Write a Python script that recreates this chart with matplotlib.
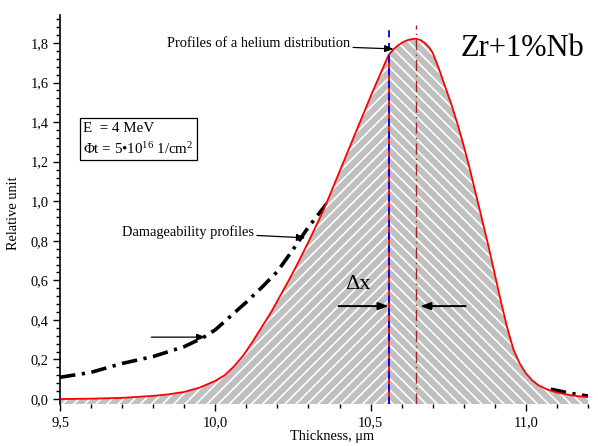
import matplotlib
matplotlib.use("Agg")
import matplotlib.pyplot as plt
import numpy as np
from matplotlib.ticker import MultipleLocator, FixedLocator

plt.rcParams['font.family'] = ['Liberation Serif', 'DejaVu Serif']
plt.rcParams['mathtext.fontset'] = 'custom'
plt.rcParams['mathtext.rm'] = 'Liberation Serif'
plt.rcParams['mathtext.it'] = 'Liberation Serif:italic'
plt.rcParams['hatch.linewidth'] = 1.2

# Helium distribution profile (red)
helium_x = [9.50, 9.60, 9.70, 9.80, 9.85, 9.90, 9.95, 10.00, 10.03, 10.06,
            10.09, 10.12, 10.15, 10.18, 10.21, 10.24, 10.27, 10.30, 10.35,
            10.40, 10.45, 10.50, 10.558, 10.575, 10.59, 10.605, 10.62, 10.635,
            10.645, 10.66, 10.675, 10.69, 10.70, 10.72, 10.74, 10.76, 10.78,
            10.80, 10.82, 10.84, 10.86, 10.88, 10.90, 10.92, 10.94, 10.96,
            10.98, 11.00, 11.02, 11.04, 11.07, 11.10, 11.15, 11.20]
helium_y = [0.000, 0.002, 0.006, 0.016, 0.024, 0.036, 0.058, 0.092, 0.12, 0.165,
            0.22, 0.29, 0.365, 0.44, 0.525, 0.61, 0.70, 0.795, 0.96,
            1.15, 1.34, 1.53, 1.74, 1.77, 1.79, 1.805, 1.815, 1.82,
            1.822, 1.815, 1.80, 1.775, 1.75, 1.67, 1.58, 1.49, 1.39,
            1.28, 1.16, 1.03, 0.90, 0.77, 0.63, 0.49, 0.36, 0.25,
            0.18, 0.13, 0.095, 0.07, 0.048, 0.033, 0.018, 0.009]

# Damageability profile (black dash-dot), visible parts
damage_x = [9.50, 9.60, 9.70, 9.80, 9.90, 9.96, 10.00, 10.05, 10.10, 10.15,
            10.20, 10.25, 10.30, 10.36, np.nan, 11.08, 11.14, 11.20]
damage_y = [0.11, 0.135, 0.18, 0.215, 0.265, 0.31, 0.35, 0.42, 0.49, 0.565,
            0.645, 0.755, 0.87, 0.99, np.nan, 0.05, 0.03, 0.015]

damage_peak_x = 10.558   # blue dashed line
helium_peak_x = 10.645   # brown dash-dot line
helium_at_damage_peak = 1.74

xtick_vals = [9.5, 10.0, 10.5, 11.0]
xtick_labels = ['9,5', '10,0', '10,5', '11,0']
ytick_vals = [0.0, 0.2, 0.4, 0.6, 0.8, 1.0, 1.2, 1.4, 1.6, 1.8]
ytick_labels = ['0,0', '0,2', '0,4', '0,6', '0,8', '1,0', '1,2', '1,4', '1,6', '1,8']

YMIN, YMAX = -0.025, 1.94

fig = plt.figure(figsize=(5.98, 4.46), dpi=100)
ax = fig.add_axes([60/598, 42/446, 528/598, (430.7-42)/446])

hx = np.array(helium_x)
hy = np.array(helium_y)
ax.fill_between(hx, YMIN, hy, where=hx <= damage_peak_x, facecolor='#c0c0c0',
                edgecolor='white', hatch='///', linewidth=0, zorder=2)
ax.fill_between(hx, YMIN, hy, where=hx >= damage_peak_x, facecolor='#c0c0c0',
                edgecolor='white', hatch='\\\\\\', linewidth=0, zorder=2)

ax.plot(damage_x, damage_y, color='black', lw=2.6,
        linestyle=(0, (4.3, 1.8, 0.9, 1.8)), zorder=1.5)
ax.plot(hx, hy, color='red', lw=1.3, zorder=4)

ax.plot([damage_peak_x, damage_peak_x], [YMIN, helium_at_damage_peak], color='red', lw=1.3, zorder=4)
ax.plot([damage_peak_x, damage_peak_x], [YMIN, 1.89], color='blue', lw=1.3,
        linestyle=(0, (4, 3)), zorder=5)
ax.plot([helium_peak_x, helium_peak_x], [YMIN, 1.89], color='#9b2525', lw=1.0,
        linestyle=(0, (8, 3, 1, 3)), zorder=5)

ap = dict(arrowstyle='-|>,head_length=0.5,head_width=0.2', color='black', lw=0.9,
          shrinkA=0, shrinkB=0)
ax.annotate('Profiles of a helium distribution', xy=(10.574, 1.77), xytext=(9.845, 1.795),
            fontsize=10.4, va='center', ha='left', arrowprops=ap, zorder=6)
ax.annotate('Damageability profiles', xy=(10.29, 0.815), xytext=(9.70, 0.844),
            fontsize=10.4, va='center', ha='left', arrowprops=ap, zorder=6)
ax.annotate('', xy=(9.968, 0.313), xytext=(9.794, 0.313), arrowprops=ap, zorder=6)

ap2 = dict(arrowstyle='-|>,head_length=0.6,head_width=0.22', color='black', lw=1.4,
           shrinkA=0, shrinkB=0)
ax.annotate('', xy=(damage_peak_x, 0.47), xytext=(10.397, 0.47), arrowprops=ap2, zorder=6)
ax.annotate('', xy=(10.66, 0.47), xytext=(10.806, 0.47), arrowprops=ap2, zorder=6)
ax.text(10.46, 0.58, 'Δx', fontsize=16, ha='center', va='center', zorder=6)

ax.text(10.79, 1.77, 'Zr+1%Nb', fontsize=22, ha='left', va='center', zorder=6)

ax.text(9.575, 1.313, 'E  = 4 MeV\nΦt = 5•10$^{16}$ 1/cm$^{2}$', fontsize=10.8,
        ha='left', va='center', linespacing=1.5,
        bbox=dict(boxstyle='square,pad=0.22', facecolor='white', edgecolor='black', lw=0.9),
        zorder=6)

ax.set_xlim(9.5, 11.2)
ax.set_ylim(YMIN, YMAX)
ax.xaxis.set_major_locator(FixedLocator(xtick_vals))
ax.set_xticklabels(xtick_labels)
ax.xaxis.set_minor_locator(MultipleLocator(0.1))
ax.yaxis.set_major_locator(FixedLocator(ytick_vals))
ax.set_yticklabels(ytick_labels)
ax.yaxis.set_minor_locator(MultipleLocator(0.04))

for s in ['top', 'right', 'bottom']:
    ax.spines[s].set_visible(False)
ax.spines['left'].set_linewidth(1.2)
ax.tick_params(axis='both', which='major', direction='out', length=5, width=1.0, labelsize=10.4)
ax.tick_params(axis='both', which='minor', direction='out', length=3, width=1.0)
ax.tick_params(axis='x', pad=4)

ax.set_xlabel('Thickness, μm', fontsize=10.4)
ax.xaxis.set_label_coords(0.515, -0.068)
ax.set_ylabel('Relative unit', fontsize=10.4)
ax.yaxis.set_label_coords(-0.075, 0.49)

fig.savefig('out.png', dpi=100)
